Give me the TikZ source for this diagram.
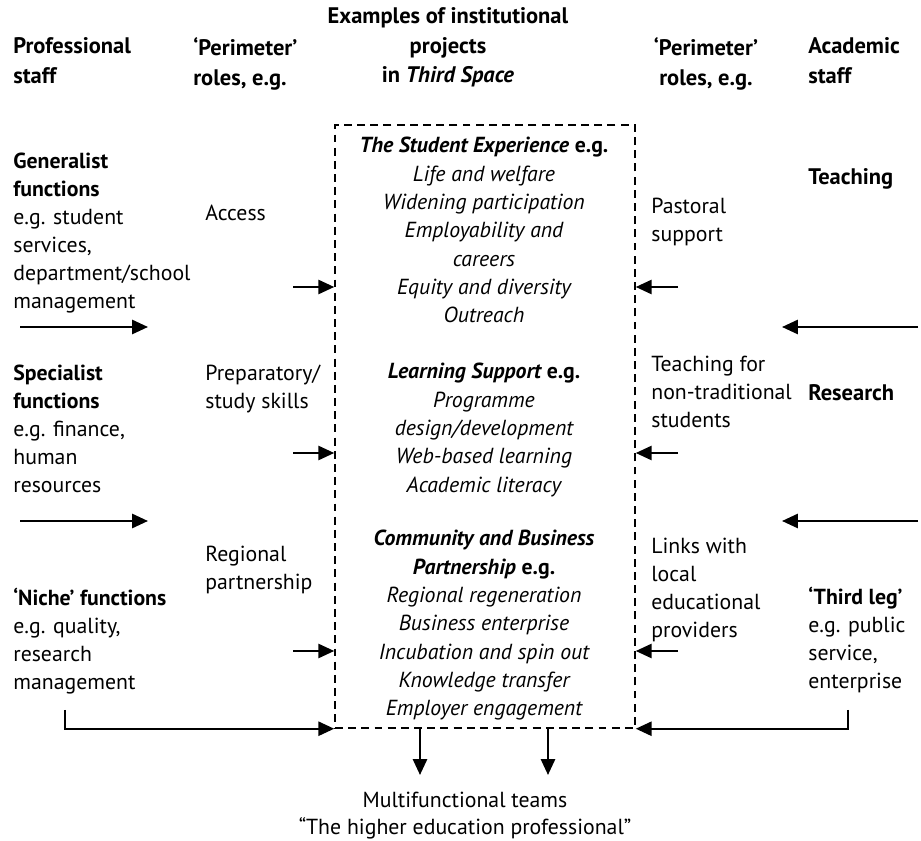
\documentclass[tikz,border=0pt]{standalone}
\usepackage{fontspec}
\setmainfont{PT Sans}
\usetikzlibrary{arrows.meta,positioning,calc}

\tikzset{
    txt/.style={inner sep=0pt, anchor=north west, align=left, font=\fontsize{12.4}{15.9}\selectfont},
    hd/.style={txt, font=\fontsize{12.8}{16.9}\selectfont\bfseries},
    proj/.style={inner sep=0pt, anchor=north, align=center, font=\fontsize{12.4}{16.1}\selectfont\itshape},
    arr/.style={-{Triangle[length=9pt,width=8pt]}, line width=1.3pt},
    link/.style={line width=1.3pt}
}

\begin{document}
\begin{tikzpicture}[x=0.02cm, y=-0.02cm]
    \useasboundingbox (0,0) rectangle (921,841);

    % Column heads
    \node[hd] (hprof) at (13,37) {Professional\\staff};
    \node[hd] (hperl) at (193,37) {`Perimeter'\\roles, e.g.};
    \node[hd, anchor=north, align=center] (hex) at (448,7) {Examples of institutional\\projects\\in \textit{Third Space}};
    \node[hd, anchor=north, align=center] (hperr) at (706,37) {`Perimeter'\\roles, e.g.};
    \node[hd] (hacad) at (808,37) {Academic\\staff};

    % Third space box
    \node[draw, dashed, dash pattern=on 4.5pt off 3pt, line width=0.9pt, minimum width=6cm, minimum height=12.06cm, inner sep=0pt] (box) at (485,426.5) {};

    \node[proj] (p1) at (484,137) {\textbf{The Student Experience} \textbf{\upshape e.g.}\\Life and welfare\\Widening participation\\Employability and\\careers\\Equity and diversity\\Outreach};
    \node[proj] (p2) at (484,363) {\textbf{Learning Support} \textbf{\upshape e.g.}\\Programme\\design/development\\Web-based learning\\Academic literacy};
    \node[proj] (p3) at (484,530) {\textbf{Community and Business}\\\textbf{Partnership} \textbf{\upshape e.g.}\\Regional regeneration\\Business enterprise\\Incubation and spin out\\Knowledge transfer\\Employer engagement};

    % Professional staff
    \node[txt] (gen) at (13,153) {\textbf{Generalist}\\\textbf{functions}\\e.g. student\\services,\\department/school\\management};
    \node[txt] (spec) at (13,365) {\textbf{Specialist}\\\textbf{functions}\\e.g. finance,\\human\\resources};
    \node[txt] (niche) at (13,588) {\textbf{`Niche' functions}\\e.g. quality,\\research\\management};

    % Left perimeter roles
    \node[txt] (acc) at (205,205) {Access};
    \node[txt] (prep) at (205,365) {Preparatory/\\study skills};
    \node[txt] (reg) at (205,546) {Regional\\partnership};

    % Right perimeter roles
    \node[txt] (past) at (651,198) {Pastoral\\support};
    \node[txt] (tnt) at (651,356) {Teaching for\\non-traditional\\students};
    \node[txt] (links) at (651,538) {Links with\\local\\educational\\providers};

    % Academic staff
    \node[txt, font=\fontsize{12.8}{15.9}\selectfont\bfseries] (teach) at (808,168) {Teaching};
    \node[txt, font=\fontsize{12.8}{15.9}\selectfont\bfseries] (res) at (808,384) {Research};
    \node[txt] (third) at (808,587) {\textbf{`Third leg'}\\e.g. public\\service,\\enterprise};

    % Outcome
    \node[inner sep=0pt, anchor=north, align=center, font=\fontsize{12.4}{15.2}\selectfont] (team) at (465,792) {Multifunctional teams\\``The higher education professional''};

    % Arrows into the box
    \foreach \y [count=\i] in {287,453,651} {
        \coordinate (l\i) at (293,\y);
        \coordinate (r\i) at (678,\y);
        \draw[arr] (l\i) -- (l\i -| box.west);
        \draw[arr] (r\i) -- (r\i -| box.east);
    }

    % Arrows between the rows
    \foreach \y [count=\i] in {327,521} {
        \coordinate (pa\i) at (20,\y);
        \coordinate (pb\i) at (148,\y);
        \coordinate (aa\i) at (918,\y);
        \coordinate (ab\i) at (782,\y);
        \draw[arr] (pa\i) -- (pb\i);
        \draw[arr] (aa\i) -- (ab\i);
    }

    % Bottom links
    \coordinate (bl) at (65,710);
    \coordinate (br) at (848,710);
    \draw[link, arr] (bl) |- (box.south west);
    \draw[link, arr] (br) |- (box.south east);
    \draw[arr] (box.south -| 420,0) -- (420,775);
    \draw[arr] (box.south -| 548,0) -- (548,775);
\end{tikzpicture}
\end{document}
